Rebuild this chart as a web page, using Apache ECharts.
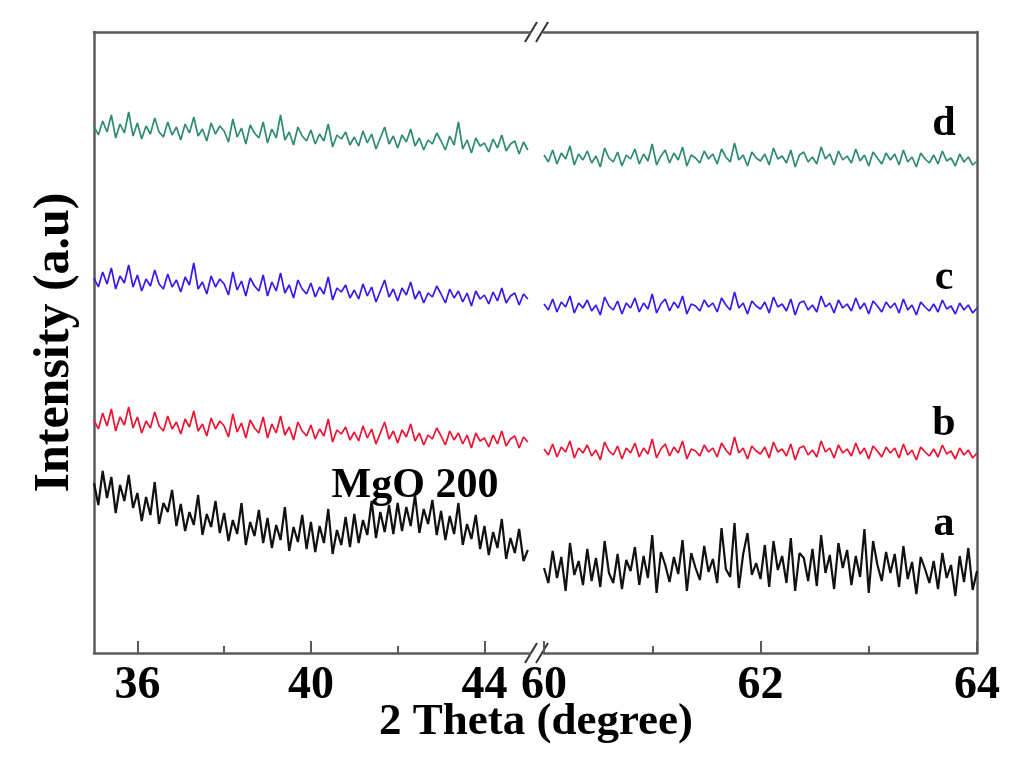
<!DOCTYPE html>
<html><head><meta charset="utf-8">
<script src="https://cdn.jsdelivr.net/npm/echarts@6/dist/echarts.min.js"></script>
<style>html,body{margin:0;padding:0;background:#fff}#c{width:1024px;height:778px}</style>
</head><body><div id="c"></div>
<script>
// 2-theta sampling of the two panels
const leftStart = 35, leftStep = 0.1, rightStart = 60, rightStep = 0.04, nPts = 101;
const leftMajorTicks = [36, 40, 44];
const leftMinorTicks = [38, 42];
const rightMajorTicks = [60, 62, 64];
const rightMinorTicks = [61, 63];
const seriesNames = ['a', 'b', 'c', 'd'];

// intensity (arbitrary units, offset traces) — left panel 35–45°
const dLeft = [527,518,532,521,538,515,529,520,541,517,530,514,527,519,535,521,516,531,518,526,513,529,520,536,517,524,512,530,519,527,522,511,534,516,525,509,528,520,515,531,510,524,515,538,513,521,508,526,517,512,523,509,519,512,529,506,518,514,521,508,516,507,522,510,519,504,515,526,509,517,505,518,511,524,507,515,503,513,509,520,512,503,517,508,531,504,513,500,515,507,510,501,514,505,518,502,509,512,499,511,503];
const cLeft = [375,366,381,369,385,364,377,370,388,366,378,362,374,367,383,369,364,379,366,373,361,376,368,390,364,371,359,377,366,374,369,358,381,363,372,357,375,367,362,378,357,371,362,380,360,368,355,373,364,359,370,356,366,359,376,353,365,361,368,355,363,354,369,357,366,351,362,373,356,364,352,365,358,371,354,362,350,360,356,367,359,350,364,355,362,351,360,347,362,354,358,349,361,352,365,350,357,360,348,359,354];
const bLeft = [233,224,240,227,244,222,236,228,246,225,236,220,232,225,241,227,222,237,224,231,219,234,226,242,222,229,217,235,224,232,227,216,239,221,230,215,233,225,220,236,215,229,220,237,218,226,213,231,222,217,228,214,224,217,234,211,223,219,226,213,221,212,227,215,224,209,220,231,214,222,210,223,216,229,212,220,208,218,214,225,217,208,222,213,220,209,218,205,220,212,215,206,218,209,222,207,214,217,205,216,211];
const aLeft = [170,148,182,155,176,140,168,152,178,145,160,132,156,138,171,129,150,141,163,127,149,122,141,128,158,118,139,126,152,120,140,112,133,119,150,108,131,117,143,110,135,105,128,113,146,102,126,111,138,104,131,101,127,110,144,99,123,108,136,106,139,110,133,118,152,115,141,121,148,119,150,122,146,127,158,120,144,129,153,118,142,113,137,119,150,108,129,114,138,104,127,98,121,105,134,94,115,100,124,92,103];

// right panel 60–64°
const dRight = [498,491,503,489,500,494,507,488,499,493,502,490,497,486,505,495,491,501,487,498,494,504,489,499,492,509,488,497,503,490,500,493,506,487,498,495,490,502,494,499,489,504,496,491,510,493,498,487,501,495,492,499,488,505,494,497,490,503,486,498,501,491,496,489,506,494,499,488,502,493,497,490,504,492,498,487,501,495,489,500,493,499,488,503,491,496,486,500,494,490,498,489,502,492,495,487,499,491,496,488,492];
const cRight = [349,343,354,341,351,346,357,340,350,345,353,342,348,338,356,347,343,352,339,350,345,355,341,350,344,359,340,349,354,342,351,345,357,339,349,347,342,353,346,350,341,355,348,343,361,345,350,339,352,347,344,351,340,356,346,349,342,354,338,350,352,343,348,341,357,346,350,340,353,345,349,342,355,344,350,339,352,347,341,351,345,350,340,354,343,348,338,351,346,342,349,341,353,344,347,339,350,343,348,340,345];
const bRight = [204,198,209,196,206,201,212,195,205,200,208,197,203,193,211,202,198,207,194,205,200,210,196,205,199,214,195,204,209,197,206,200,212,194,204,202,197,208,201,205,196,210,203,198,216,200,205,194,207,202,199,206,195,211,201,204,197,209,193,205,207,198,203,196,212,201,205,195,208,200,204,197,210,199,205,194,207,202,196,206,200,205,195,209,198,203,193,206,201,197,204,196,208,199,202,194,205,198,203,195,200];
const aRight = [85,70,102,75,96,62,110,78,92,68,104,72,95,66,112,80,70,99,64,93,82,106,68,97,75,118,60,101,88,71,96,79,113,62,100,85,73,107,81,94,70,125,84,76,130,65,99,120,78,90,74,108,66,112,83,97,70,115,62,100,95,72,104,67,118,80,98,64,110,85,103,68,97,76,124,60,112,88,72,101,80,99,66,107,74,91,59,96,84,70,92,64,100,75,88,57,97,71,105,63,82];

const colors = {a: '#111111', b: '#ee1232', c: '#3c16f2', d: '#2e8a72'};
const widths = {a: 2.2, b: 1.7, c: 1.7, d: 1.7};
const leftData = {a: aLeft, b: bLeft, c: cLeft, d: dLeft};
const rightData = {a: aRight, b: bRight, c: cRight, d: dRight};

const xL = [], xR = [];
for (let i = 0; i < nPts; i++) { xL.push(+(leftStart + i * leftStep).toFixed(3)); xR.push(+(rightStart + i * rightStep).toFixed(3)); }

const FONT = '"Liberation Serif","Times New Roman",serif';
const axisColor = '#5a5a5a';
const yMax = 621;

function xAxisSet(gridIndex, min, max, major, minor) {
  const base = {type: 'value', gridIndex, min, max, splitLine: {show: false}};
  return [
    Object.assign({}, base, {position: 'bottom',
      axisLine: {show: true, onZero: false, lineStyle: {color: axisColor, width: 2.5}},
      axisTick: {show: true, inside: true, length: 12, customValues: major, lineStyle: {color: axisColor, width: 2}},
      axisLabel: {show: true, customValues: major, margin: 10, fontFamily: FONT, fontWeight: 'bold', fontSize: 46, color: '#000'}}),
    Object.assign({}, base, {position: 'bottom',
      axisLine: {show: false},
      axisTick: {show: true, inside: true, length: 7, customValues: minor, lineStyle: {color: axisColor, width: 2}},
      axisLabel: {show: false}}),
    Object.assign({}, base, {position: 'top',
      axisLine: {show: true, onZero: false, lineStyle: {color: axisColor, width: 2.5}},
      axisTick: {show: false}, axisLabel: {show: false}})
  ];
}

const xAxes = [].concat(
  xAxisSet(0, 35, 45.05, leftMajorTicks, leftMinorTicks),
  xAxisSet(1, 60, 64, rightMajorTicks, rightMinorTicks)
);

const yAxes = [
  {type: 'value', gridIndex: 0, min: 0, max: yMax, position: 'left',
   axisLine: {show: true, onZero: false, lineStyle: {color: axisColor, width: 2.5}},
   axisTick: {show: false}, axisLabel: {show: false}, splitLine: {show: false},
   name: 'Intensity (a.u)', nameLocation: 'middle', nameGap: 14,
   nameTextStyle: {fontFamily: FONT, fontWeight: 'bold', fontSize: 50, color: '#000'}},
  {type: 'value', gridIndex: 1, min: 0, max: yMax, position: 'right',
   axisLine: {show: true, onZero: false, lineStyle: {color: axisColor, width: 2.5}},
   axisTick: {show: false}, axisLabel: {show: false}, splitLine: {show: false}}
];

const series = [];
seriesNames.forEach(n => {
  series.push({type: 'line', name: n, xAxisIndex: 0, yAxisIndex: 0, showSymbol: false, symbol: 'none',
    data: xL.map((x, i) => [x, leftData[n][i]]), lineStyle: {color: colors[n], width: widths[n]}, silent: true});
  series.push({type: 'line', name: n, xAxisIndex: 3, yAxisIndex: 1, showSymbol: false, symbol: 'none',
    data: xR.map((x, i) => [x, rightData[n][i]]), lineStyle: {color: colors[n], width: widths[n]}, silent: true});
});

const chart = echarts.init(document.getElementById('c'));
const gTop = 32, gBottom = 125;
chart.setOption({
  animation: false,
  backgroundColor: '#fff',
  grid: [
    {left: 94, right: 1024 - 530, top: gTop, bottom: gBottom},
    {left: 544, right: 1024 - 977, top: gTop, bottom: gBottom}
  ],
  xAxis: xAxes,
  yAxis: yAxes,
  series
});

// decorations: axis break marks, title, trace labels
const brk = [];
[653, 32].forEach(y => {
  [531, 542].forEach(x => brk.push({type: 'line', shape: {x1: x - 6, y1: y + 10, x2: x + 6, y2: y - 10},
    style: {stroke: '#333', lineWidth: 2}}));
});
const txt = (t, x, y, size, align) => ({type: 'text', x, y, style: {text: t, fontFamily: FONT, fontWeight: 'bold', fontSize: size, fill: '#000', align: align || 'center', verticalAlign: 'middle'}});
chart.setOption({
  graphic: brk.concat([
    txt('2 Theta (degree)', 536, 722, 45),
    txt('d', 944, 124, 42),
    txt('c', 944, 278, 42),
    txt('b', 944, 424, 42),
    txt('a', 944, 524, 42),
    txt('MgO 200', 415, 486, 42)
  ])
});
</script></body></html>
